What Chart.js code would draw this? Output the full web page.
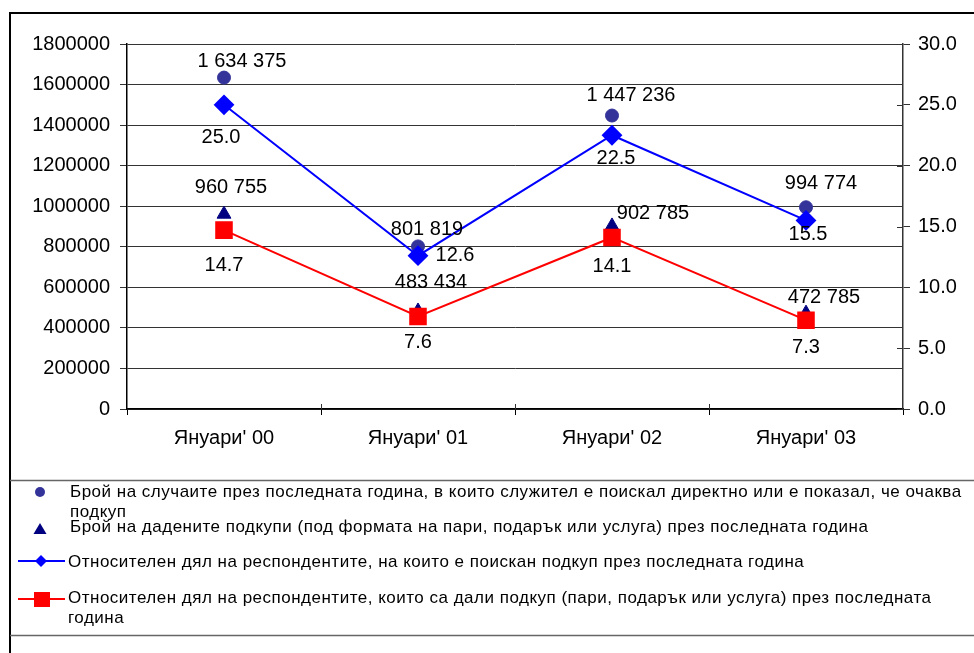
<!DOCTYPE html>
<html>
<head>
<meta charset="utf-8">
<script src="https://cdn.jsdelivr.net/npm/chart.js@4/dist/chart.umd.min.js"></script>
<style>
  html, body { margin: 0; padding: 0; background: #fff; }
  #wrap { width: 974px; height: 653px; }
</style>
</head>
<body>
<div id="wrap"><canvas id="c" width="974" height="653"></canvas></div>
<script>
// ---- data ----
const categories = ["Януари' 00", "Януари' 01", "Януари' 02", "Януари' 03"];
const casesAsked = [1634375, 801819, 1447236, 994774];
const bribesGiven = [960755, 483434, 902785, 472785];
const shareAsked = [25.0, 12.6, 22.5, 15.5];
const shareGave = [14.7, 7.6, 14.1, 7.3];
const leftAxisMax = 1800000;
const leftAxisStep = 200000;
const rightAxisMax = 30;
const rightAxisStep = 5;
const seriesNames = [
  "Брой на случаите през последната година, в които служител е поискал директно или е показал, че очаква подкуп",
  "Брой на дадените подкупи (под формата на пари, подарък или услуга) през последната година",
  "Относителен дял на респондентите, на които е поискан подкуп през последната година",
  "Относителен дял на респондентите, които са дали подкуп (пари, подарък или услуга) през последната година"
];

// ---- styles ----
const FONT = '"Liberation Sans", Arial, sans-serif';
const C_CIRCLE = '#333399';
const C_TRI = '#000080';
const C_BLUE = '#0000FF';
const C_RED = '#FF0000';

// label offsets (dx, dy) per dataset / point, relative to the marker
const labelOffsets = [
  [[18, -16], [9, -17], [19, -20], [15, -24]],
  [[7, -27], [13, -28], [41, -12], [18, -16]],
  [[-3, 33], [37, 0], [4, 23], [2, 14]],
  [[0, 35], [0, 26], [0, 29], [0, 27]]
];

function fmtThousands(v) {
  return String(v).replace(/\B(?=(\d{3})+(?!\d))/g, ' ');
}

const labelPlugin = {
  id: 'pointLabels',
  afterDatasetsDraw(chart) {
    const ctx = chart.ctx;
    ctx.save();
    ctx.font = '20px ' + FONT;
    ctx.fillStyle = '#000';
    ctx.textAlign = 'center';
    ctx.textBaseline = 'middle';
    chart.data.datasets.forEach((ds, i) => {
      const meta = chart.getDatasetMeta(i);
      meta.data.forEach((pt, j) => {
        const v = ds.data[j];
        const txt = ds.yAxisID === 'y' ? fmtThousands(v) : v.toFixed(1);
        const off = labelOffsets[i][j];
        ctx.fillText(txt, pt.x + off[0], pt.y + off[1]);
      });
    });
    ctx.restore();
  }
};

const framePlugin = {
  id: 'frameLegend',
  afterDraw(chart) {
    const ctx = chart.ctx;
    ctx.save();
    // inner part of right-axis ticks (they cross the axis)
    const y1 = chart.scales.y1;
    ctx.strokeStyle = '#333';
    ctx.lineWidth = 1;
    ctx.beginPath();
    y1.ticks.forEach(t => {
      const yy = Math.round(y1.getPixelForValue(t.value)) + 0.5;
      ctx.moveTo(y1.left - 6, yy); ctx.lineTo(y1.left, yy);
    });
    const xs = chart.scales.x;
    for (let k = 1; k < categories.length; k++) {
      const xx = Math.round((xs.getPixelForValue(k - 1) + xs.getPixelForValue(k)) / 2) + 0.5;
      ctx.moveTo(xx, xs.top - 5); ctx.lineTo(xx, xs.top);
    }
    ctx.stroke();

    // outer frame
    ctx.strokeStyle = '#000';
    ctx.lineWidth = 2;
    ctx.beginPath();
    ctx.moveTo(10, 653);
    ctx.lineTo(10, 13);
    ctx.lineTo(974, 13);
    ctx.stroke();
    // legend separators
    ctx.strokeStyle = '#666';
    ctx.lineWidth = 1.5;
    ctx.beginPath();
    ctx.moveTo(10, 480.5); ctx.lineTo(974, 480.5);
    ctx.moveTo(10, 635.5); ctx.lineTo(974, 635.5);
    ctx.stroke();

    // legend items
    ctx.font = '17px ' + FONT;
    ctx.letterSpacing = '0.5px';
    ctx.fillStyle = '#000';
    ctx.textAlign = 'left';
    ctx.textBaseline = 'alphabetic';

    // item 1: circle
    ctx.fillStyle = C_CIRCLE;
    ctx.beginPath(); ctx.arc(40, 492, 5, 0, Math.PI * 2); ctx.fill();
    ctx.fillStyle = '#000';
    const n1 = seriesNames[0];
    const cut1 = n1.lastIndexOf(' ');
    ctx.fillText(n1.slice(0, cut1), 70, 497);
    ctx.fillText(n1.slice(cut1 + 1), 70, 516.5);

    // item 2: triangle
    ctx.fillStyle = C_TRI;
    ctx.beginPath();
    ctx.moveTo(40, 523); ctx.lineTo(46.5, 534); ctx.lineTo(33.5, 534); ctx.closePath();
    ctx.fill();
    ctx.fillStyle = '#000';
    ctx.fillText(seriesNames[1], 70, 532);

    // item 3: blue line + diamond
    ctx.strokeStyle = C_BLUE;
    ctx.lineWidth = 2;
    ctx.beginPath(); ctx.moveTo(18, 561); ctx.lineTo(65, 561); ctx.stroke();
    ctx.fillStyle = C_BLUE;
    ctx.beginPath();
    ctx.moveTo(41, 555); ctx.lineTo(47, 561); ctx.lineTo(41, 567); ctx.lineTo(35, 561); ctx.closePath();
    ctx.fill();
    ctx.fillStyle = '#000';
    ctx.fillText(seriesNames[2], 68, 567);

    // item 4: red line + square
    ctx.strokeStyle = C_RED;
    ctx.beginPath(); ctx.moveTo(18, 599); ctx.lineTo(65, 599); ctx.stroke();
    ctx.fillStyle = C_RED;
    ctx.fillRect(34, 592, 16, 15);
    ctx.fillStyle = '#000';
    const n4 = seriesNames[3];
    const cut4 = n4.lastIndexOf(' ');
    ctx.fillText(n4.slice(0, cut4), 68, 603);
    ctx.fillText(n4.slice(cut4 + 1), 68, 622.5);
    ctx.letterSpacing = '0px';
    ctx.restore();
  }
};

Chart.defaults.font.family = FONT;
Chart.defaults.font.size = 20;
Chart.defaults.color = '#000';

new Chart(document.getElementById('c'), {
  type: 'line',
  data: {
    labels: categories,
    datasets: [
      {
        label: seriesNames[0], data: casesAsked, yAxisID: 'y', showLine: false,
        pointStyle: 'circle', pointRadius: 6.5, pointBackgroundColor: C_CIRCLE,
        pointBorderColor: C_CIRCLE, borderColor: C_CIRCLE, order: 3
      },
      {
        label: seriesNames[1], data: bribesGiven, yAxisID: 'y', showLine: false,
        pointStyle: 'triangle', pointRadius: 8, pointBackgroundColor: C_TRI,
        pointBorderColor: C_TRI, borderColor: C_TRI, order: 2
      },
      {
        label: seriesNames[2], data: shareAsked, yAxisID: 'y1',
        borderColor: C_BLUE, borderWidth: 2, pointStyle: 'rectRot', pointRadius: 9,
        pointBackgroundColor: C_BLUE, pointBorderColor: C_BLUE, tension: 0, order: 1
      },
      {
        label: seriesNames[3], data: shareGave, yAxisID: 'y1',
        borderColor: C_RED, borderWidth: 2, pointStyle: 'rect', pointRadius: 11,
        pointBackgroundColor: C_RED, pointBorderColor: C_RED, tension: 0, order: 0
      }
    ]
  },
  options: {
    responsive: false,
    animation: false,
    devicePixelRatio: 1,
    layout: { padding: { top: 44, left: 0, right: 0, bottom: 204 } },
    plugins: { legend: { display: false }, tooltip: { enabled: false } },
    scales: {
      x: {
        offset: true,
        grid: { offset: true, drawOnChartArea: false, drawTicks: true, tickLength: 6, color: '#000', lineWidth: 1 },
        border: { color: '#000', width: 1.5 },
        ticks: { padding: 11, font: { size: 20 }, color: '#000' },
        afterFit(s) { s.height = 40; }
      },
      y: {
        position: 'left',
        min: 0, max: leftAxisMax,
        ticks: { stepSize: leftAxisStep, padding: 10, color: '#000', font: { size: 20 },
          callback: v => String(v) },
        grid: { color: '#333', lineWidth: 1, tickLength: 7 },
        border: { color: '#000', width: 1.5 },
        afterFit(s) { s.width = 127; }
      },
      y1: {
        position: 'right',
        min: 0, max: rightAxisMax,
        ticks: { stepSize: rightAxisStep, padding: 8, color: '#000', font: { size: 20 },
          callback: v => Number(v).toFixed(1) },
        grid: { drawOnChartArea: false, color: '#333', tickLength: 7 },
        border: { color: '#333', width: 1.5 },
        afterFit(s) { s.width = 71; }
      }
    }
  },
  plugins: [labelPlugin, framePlugin]
});
</script>
</body>
</html>
